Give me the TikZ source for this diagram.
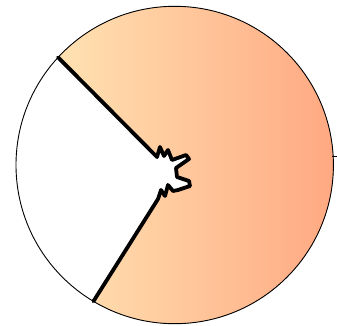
\documentclass[tikz,border=0pt]{standalone}
\usepackage{tikz}
\usetikzlibrary{calc}
\definecolor{wedgelight}{HTML}{FFE2B2}
\definecolor{wedgedark}{HTML}{FFA47E}
\tikzset{
  rim/.style={draw=black, line width=0.9pt},
  cutline/.style={draw=black, line width=3.8pt, line join=round, line cap=round},
  wedgefill/.style={left color=wedgelight, right color=wedgedark}
}

\begin{document}
\begin{tikzpicture}[x=1pt, y=-1pt]

  \useasboundingbox (0,0) rectangle (337,326);

  % Circle and ends of the cut
  \coordinate (c) at (174.7,165);
  \coordinate (rimtop) at ($(c)+(222.7:158.7)$);
  \coordinate (rimbot) at ($(c)+(120.8:158.7)$);
  \coordinate (inup) at (157,157);
  \coordinate (inlow) at (158,199);

  % Shaded part
  \fill[wedgefill] (rimtop) -- (inup) -- (160,147) -- (164,156) -- (168,150)
    -- (172,160) -- (186,155) -- (189,159) -- (176,168) -- (177,177)
    -- (189,181) -- (190,186) -- (178,190) -- (173,191) -- (168,185)
    -- (165,196) -- (161,190) -- (inlow) -- (rimbot)
    arc[start angle=120.8, end angle=-137.3, radius=158.7] -- cycle;

  % Cut
  \draw[cutline] (rimtop) -- (inup) -- (160,147) -- (164,156) -- (168,150)
    -- (172,160) -- (186,155) -- (189,159) -- (176,168) -- (177,177)
    -- (189,181) -- (190,186) -- (178,190) -- (173,191) -- (168,185)
    -- (165,196) -- (161,190) -- (inlow) -- (rimbot);

  % Rim
  \draw[rim] (c) circle[radius=158.7];
  \draw[line width=0.6pt] (332,156) -- (337,156);

\end{tikzpicture}
\end{document}
